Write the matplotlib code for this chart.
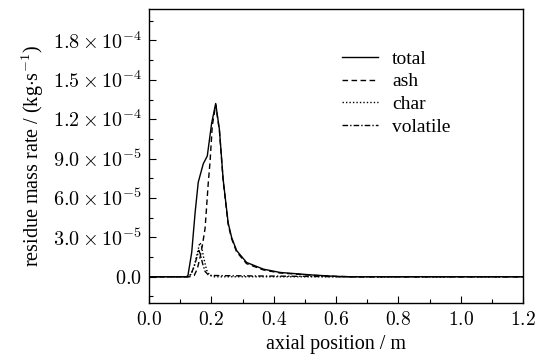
import matplotlib
matplotlib.use("Agg")
import matplotlib.pyplot as plt
from matplotlib.ticker import MultipleLocator, FuncFormatter
import math

plt.rcParams['font.family'] = ['Liberation Serif', 'DejaVu Serif']
plt.rcParams['mathtext.fontset'] = 'cm'

# data (axial position in m, residue mass rate in kg/s)
total_x = [0.0, 0.12, 0.125, 0.137, 0.148, 0.158, 0.174, 0.187, 0.201, 0.214, 0.226,
           0.238, 0.254, 0.265, 0.281, 0.313, 0.367, 0.42, 0.526, 0.6, 0.65, 1.2]
total_y = [0.0, 0.0, 0.1e-5, 1.85e-5, 4.9e-5, 7.2e-5, 8.6e-5, 9.2e-5, 1.17e-4, 1.32e-4, 1.12e-4,
           7.4e-5, 4.1e-5, 3.0e-5, 2.0e-5, 1.09e-5, 5.8e-6, 3.3e-6, 1.3e-6, 0.3e-6, 0.0, 0.0]

ash_x = [0.0, 0.13, 0.145, 0.155, 0.164, 0.172, 0.18, 0.19, 0.196, 0.203, 0.214, 0.226,
         0.238, 0.254, 0.265, 0.281, 0.313, 0.367, 0.42, 0.526, 0.6, 0.65, 1.2]
ash_y = [0.0, 0.0, 0.1e-5, 0.6e-5, 1.5e-5, 2.5e-5, 3.7e-5, 7.1e-5, 8.8e-5, 1.15e-4, 1.31e-4, 1.11e-4,
         7.3e-5, 4.0e-5, 2.9e-5, 1.9e-5, 1.0e-5, 5.2e-6, 2.9e-6, 1.1e-6, 0.3e-6, 0.0, 0.0]

char_x = [0.0, 0.125, 0.135, 0.145, 0.155, 0.163, 0.168, 0.175, 0.185, 0.195, 0.21, 1.2]
char_y = [0.0, 0.0, 0.2e-5, 0.8e-5, 1.8e-5, 2.6e-5, 2.4e-5, 1.5e-5, 0.5e-5, 0.1e-5, 0.0, 0.0]

vol_x = [0.0, 0.125, 0.135, 0.145, 0.155, 0.16, 0.165, 0.172, 0.18, 0.19, 0.2, 0.25,
         0.35, 0.45, 0.55, 0.62, 0.7, 1.2]
vol_y = [0.0, 0.0, 0.2e-5, 0.8e-5, 1.6e-5, 2.0e-5, 1.7e-5, 1.0e-5, 0.4e-5, 0.15e-5, 0.1e-5, 0.08e-5,
         0.06e-5, 0.04e-5, 0.02e-5, 0.0, 0.0, 0.0]

fig = plt.figure(figsize=(5.43, 3.58), dpi=100)
ax = fig.add_axes([0.2744, 0.1536, 0.6888, 0.8213])

lw = 1.0
ax.plot(total_x, total_y, color='black', lw=lw, ls='-', label='total')
ax.plot(ash_x, ash_y, color='black', lw=lw, ls=(0, (4, 2.5)), label='ash')
ax.plot(char_x, char_y, color='black', lw=lw, ls=(0, (1, 1.5)), label='char')
ax.plot(vol_x, vol_y, color='black', lw=lw, ls=(0, (4, 1.5, 1, 1.5)), label='volatile')

ax.set_xlim(0, 1.2)
ax.set_ylim(-2.0e-5, 2.04e-4)

ax.xaxis.set_major_locator(MultipleLocator(0.2))
ax.xaxis.set_minor_locator(MultipleLocator(0.1))
ax.yaxis.set_major_locator(MultipleLocator(3e-5))
ax.yaxis.set_minor_locator(MultipleLocator(1.5e-5))

def xfmt(v, pos):
    return r'$%.1f$' % v

def yfmt(v, pos):
    if abs(v) < 1e-12:
        return r'$0.0$'
    e = int(math.floor(math.log10(abs(v))))
    m = v / 10**e
    return r'$%.1f\times10^{%d}$' % (m, e)

ax.xaxis.set_major_formatter(FuncFormatter(xfmt))
ax.yaxis.set_major_formatter(FuncFormatter(yfmt))

ax.tick_params(which='both', direction='in', top=False, right=False, width=0.8)
ax.tick_params(axis='x', labelsize=14, pad=6)
ax.tick_params(axis='y', labelsize=14.5, pad=5)
ax.tick_params(which='major', length=5)
ax.tick_params(which='minor', length=3)
for s in ax.spines.values():
    s.set_linewidth(1.0)

ax.set_xlabel('axial position / m', fontsize=14.5, labelpad=4)
ax.set_ylabel(r'residue mass rate / (kg$\cdot$s$^{-1}$)', fontsize=14.5, labelpad=5)

leg = ax.legend(loc='upper left', bbox_to_anchor=(0.516, 0.86), frameon=False, fontsize=14,
                handlelength=1.85, handletextpad=0.72, labelspacing=0.26, borderpad=0,
                borderaxespad=0)

fig.savefig('out.png', dpi=100)
